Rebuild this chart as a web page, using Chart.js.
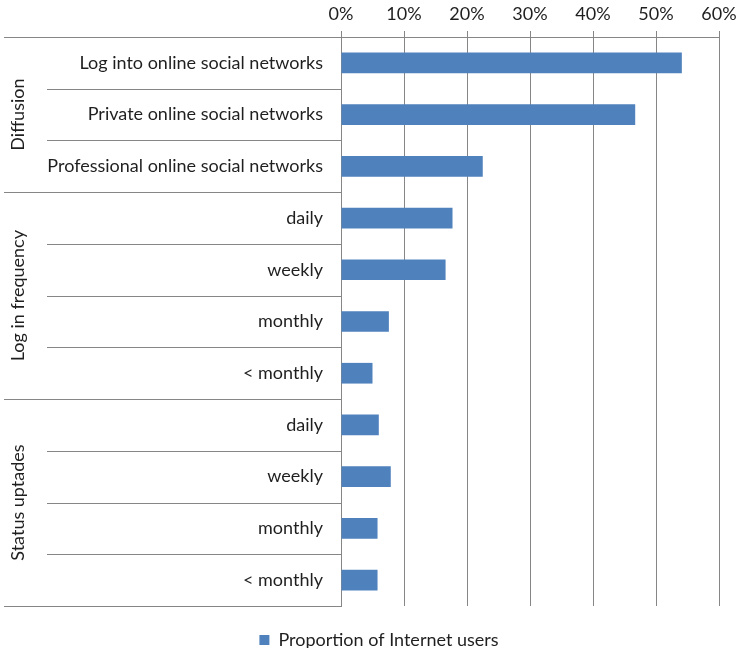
<!DOCTYPE html>
<html>
<head>
<meta charset="utf-8">
<script src="https://cdn.jsdelivr.net/npm/chart.js@4.4.1/dist/chart.umd.min.js"></script>
<style>
  html, body { margin: 0; padding: 0; background: #fff; }
  #wrap { width: 736px; height: 648px; }
</style>
</head>
<body>
<div id="wrap"><canvas id="chart"></canvas></div>
<script>
const categories = [
  'Log into online social networks', 'Private online social networks', 'Professional online social networks',
  'daily', 'weekly', 'monthly', '< monthly',
  'daily', 'weekly', 'monthly', '< monthly'
];
const shares = [0.541, 0.467, 0.225, 0.177, 0.166, 0.076, 0.050, 0.060, 0.079, 0.058, 0.058];
const groups = ['Diffusion', 'Log in frequency', 'Status uptades'];
const groupSizes = [3, 4, 4];
const xMin = 0, xMax = 0.6, xStep = 0.1;
const seriesName = 'Proportion of Internet users';

const lineColor = '#868686';
const textColor = '#1f1f1f';
const barColor = '#4F81BD';
const fontFamily = "Lato, 'Open Sans', sans-serif";
const fontSize = 18;

// separators + rotated group names on the left of the y axis
const groupLabels = {
  id: 'groupLabels',
  afterLayout(chart) {
    // legend sits a bit right of centre in the original
    chart.legend.left += 11;
    chart.legend.right += 11;
  },
  afterDraw(chart) {
    const ctx = chart.ctx, y = chart.scales.y, area = chart.chartArea;
    const half = (y.getPixelForValue(1) - y.getPixelForValue(0)) / 2;
    const line = (x1, py, x2) => {
      const yy = Math.round(py) + 0.5;
      ctx.beginPath(); ctx.moveTo(x1, yy); ctx.lineTo(x2, yy); ctx.stroke();
    };
    ctx.save();
    ctx.strokeStyle = lineColor;
    ctx.lineWidth = 1;
    line(4, area.top, area.left);
    let start = 0;
    groupSizes.forEach((n, g) => {
      for (let i = start + 1; i < start + n; i++) line(47, y.getPixelForValue(i) - half, area.left);
      const top = y.getPixelForValue(start) - half;
      const bottom = y.getPixelForValue(start + n - 1) + half;
      line(4, bottom, area.left);
      ctx.save();
      ctx.translate(18, (top + bottom) / 2);
      ctx.rotate(-Math.PI / 2);
      ctx.fillStyle = textColor;
      ctx.font = fontSize + 'px ' + fontFamily;
      ctx.textAlign = 'center';
      ctx.textBaseline = 'middle';
      ctx.fillText(groups[g], 0, 0);
      ctx.restore();
      start += n;
    });
    ctx.restore();
  }
};

new Chart(document.getElementById('chart'), {
  type: 'bar',
  data: {
    labels: categories,
    datasets: [{
      label: seriesName,
      data: shares,
      backgroundColor: barColor,
      barPercentage: 0.4,
      categoryPercentage: 1
    }]
  },
  options: {
    indexAxis: 'y',
    responsive: true,
    maintainAspectRatio: false,
    animation: false,
    layout: { padding: { left: 0, right: 0, top: 0, bottom: -11 } },
    plugins: {
      legend: {
        position: 'bottom',
        labels: { boxWidth: 10, boxHeight: 10, padding: 25, color: textColor, font: { family: fontFamily, size: fontSize } }
      },
      tooltip: { enabled: false }
    },
    scales: {
      x: {
        position: 'top',
        min: xMin, max: xMax,
        afterFit(s) { s.height = 37; s.paddingRight = 17; },
        grid: { color: lineColor, tickLength: 6 },
        border: { color: lineColor },
        ticks: {
          stepSize: xStep, padding: 6, color: textColor,
          font: { family: fontFamily, size: fontSize },
          callback: v => Math.round(v * 100) + '%'
        }
      },
      y: {
        afterFit(s) { s.width = 341; },
        grid: { display: false },
        border: { color: lineColor },
        ticks: { padding: 10, color: textColor, font: { family: fontFamily, size: fontSize } }
      }
    }
  },
  plugins: [groupLabels]
});
</script>
</body>
</html>
